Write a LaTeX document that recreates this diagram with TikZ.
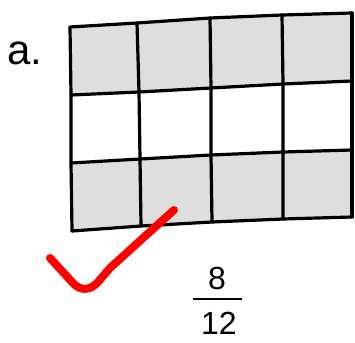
\documentclass[tikz,border=0pt]{standalone}
\usepackage{fontspec}
\setmainfont{Liberation Sans}
\begin{document}
\begin{tikzpicture}[x=1pt,y=-1pt,
  gridline/.style={line width=3.2pt,line join=round,line cap=round},
  shade/.style={fill=black!13},
  tick/.style={draw=red,line width=8pt,line cap=round,line join=round},
  txt/.style={inner sep=0pt,font=\fontsize{32}{36}\selectfont},
  bigtxt/.style={inner sep=0pt,font=\fontsize{42}{46}\selectfont}]
\useasboundingbox (0,0) rectangle (355,342);
% grid points p<col><row>
\coordinate (p00) at (70,27);  \coordinate (p10) at (137,23); \coordinate (p20) at (210,18); \coordinate (p30) at (282,15); \coordinate (p40) at (352,13);
\coordinate (p01) at (71,95);  \coordinate (p11) at (139,92); \coordinate (p21) at (211,88); \coordinate (p31) at (283,84); \coordinate (p41) at (352,81);
\coordinate (p02) at (71,163); \coordinate (p12) at (140,159);\coordinate (p22) at (211,155);\coordinate (p32) at (283,152);\coordinate (p42) at (352,150);
\coordinate (p03) at (72,231); \coordinate (p13) at (141,226);\coordinate (p23) at (212,222);\coordinate (p33) at (283,219);\coordinate (p43) at (352,217);
% shaded rows
\fill[shade] (p00) -- (p10) -- (p20) -- (p30) -- (p40) -- (p41) -- (p31) -- (p21) -- (p11) -- (p01) -- cycle;
\fill[shade] (p02) -- (p12) -- (p22) -- (p32) -- (p42) -- (p43) -- (p33) -- (p23) -- (p13) -- (p03) -- cycle;
% horizontal lines
\foreach \r in {0,1,2,3} {\draw[gridline] (p0\r) -- (p1\r) -- (p2\r) -- (p3\r) -- (p4\r);}
% vertical lines
\foreach \c in {0,1,2,3,4} {\draw[gridline] (p\c0) -- (p\c1) -- (p\c2) -- (p\c3);}
% label
\node[bigtxt,anchor=base west] (lab) at (7,65) {a.};
% fraction
\node[txt,anchor=base] (num) at (217,289) {8};
\node[txt,anchor=base] (den) at (219,334) {12};
\draw[line width=1.6pt] (193,299) -- (242,299);
% red check
\draw[tick] (50,258) -- (73,283) .. controls (80,291) and (90,291) .. (98,282) -- (110,268) -- (174,210);
\end{tikzpicture}
\end{document}
